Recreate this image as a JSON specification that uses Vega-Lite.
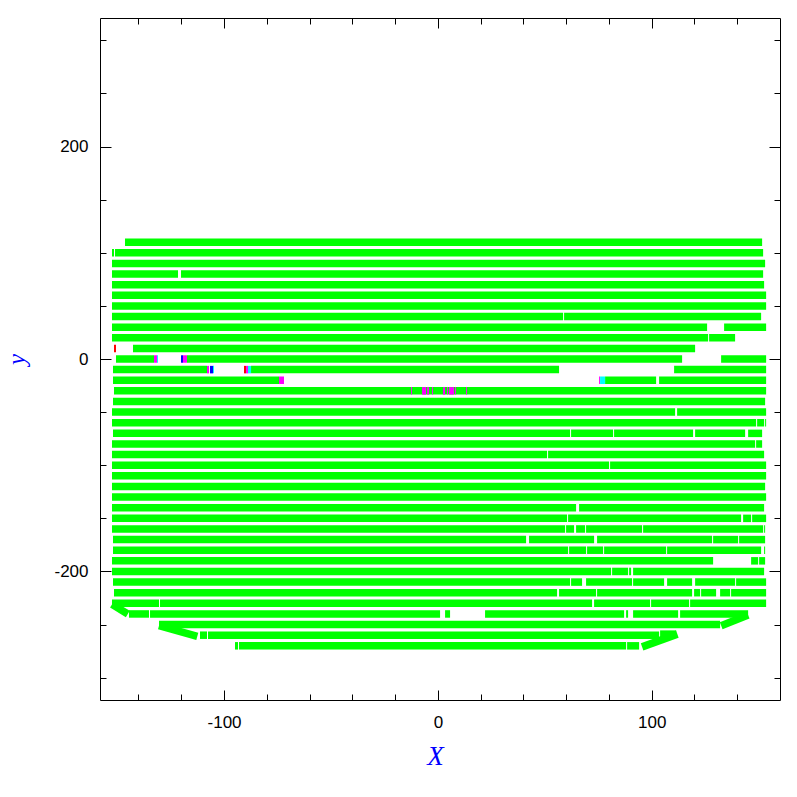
{
  "$schema": "https://vega.github.io/schema/vega-lite/v6.json",
  "width": 680,
  "height": 682,
  "autosize": "none",
  "padding": {"left": 100, "top": 18, "right": 17, "bottom": 97},
  "background": "white",
  "config": {"view": {"stroke": "black", "strokeWidth": 1}},
  "data": {"values": [
    {"x": -146.31, "x2": 151.64, "y": 110, "y2": 110, "c": "g"},
    {"x": -152.39, "x2": -151.45, "y": 100, "y2": 100, "c": "g"},
    {"x": -150.98, "x2": 152.11, "y": 100, "y2": 100, "c": "g"},
    {"x": -152.39, "x2": 153.04, "y": 90, "y2": 90, "c": "g"},
    {"x": -152.39, "x2": -121.52, "y": 80, "y2": 80, "c": "g"},
    {"x": -120.11, "x2": 152.11, "y": 80, "y2": 80, "c": "g"},
    {"x": -152.39, "x2": 152.57, "y": 70, "y2": 70, "c": "g"},
    {"x": -152.39, "x2": 153.51, "y": 60, "y2": 60, "c": "g"},
    {"x": -152.39, "x2": 153.51, "y": 50, "y2": 50, "c": "g"},
    {"x": -152.39, "x2": 58.56, "y": 40, "y2": 40, "c": "g"},
    {"x": 59.03, "x2": 151.17, "y": 40, "y2": 40, "c": "g"},
    {"x": -152.39, "x2": 125.91, "y": 30, "y2": 30, "c": "g"},
    {"x": 133.86, "x2": 153.51, "y": 30, "y2": 30, "c": "g"},
    {"x": -152.39, "x2": 126.38, "y": 20, "y2": 20, "c": "g"},
    {"x": 126.85, "x2": 139.0, "y": 20, "y2": 20, "c": "g"},
    {"x": -142.57, "x2": 120.3, "y": 10, "y2": 10, "c": "g"},
    {"x": -150.52, "x2": -132.74, "y": 0, "y2": 0, "c": "g"},
    {"x": -117.31, "x2": 114.22, "y": 0, "y2": 0, "c": "g"},
    {"x": 132.46, "x2": 153.51, "y": 0, "y2": 0, "c": "g"},
    {"x": -151.92, "x2": -107.95, "y": -10, "y2": -10, "c": "g"},
    {"x": -87.37, "x2": 56.68, "y": -10, "y2": -10, "c": "g"},
    {"x": 110.48, "x2": 153.51, "y": -10, "y2": -10, "c": "g"},
    {"x": -151.92, "x2": -74.28, "y": -20, "y2": -20, "c": "g"},
    {"x": 78.2, "x2": 102.06, "y": -20, "y2": -20, "c": "g"},
    {"x": 103.46, "x2": 153.51, "y": -20, "y2": -20, "c": "g"},
    {"x": -151.45, "x2": 153.51, "y": -30, "y2": -30, "c": "g"},
    {"x": -151.92, "x2": 153.04, "y": -40, "y2": -40, "c": "g"},
    {"x": -152.39, "x2": 110.94, "y": -50, "y2": -50, "c": "g"},
    {"x": 111.88, "x2": 153.51, "y": -50, "y2": -50, "c": "g"},
    {"x": -152.39, "x2": 148.83, "y": -60, "y2": -60, "c": "g"},
    {"x": 149.3, "x2": 152.57, "y": -60, "y2": -60, "c": "g"},
    {"x": 153.04, "x2": 153.51, "y": -60, "y2": -60, "c": "g"},
    {"x": -151.92, "x2": 61.83, "y": -70, "y2": -70, "c": "g"},
    {"x": 62.3, "x2": 81.95, "y": -70, "y2": -70, "c": "g"},
    {"x": 82.41, "x2": 119.36, "y": -70, "y2": -70, "c": "g"},
    {"x": 120.3, "x2": 143.69, "y": -70, "y2": -70, "c": "g"},
    {"x": 145.09, "x2": 151.64, "y": -70, "y2": -70, "c": "g"},
    {"x": -152.39, "x2": 148.36, "y": -80, "y2": -80, "c": "g"},
    {"x": 148.83, "x2": 151.64, "y": -80, "y2": -80, "c": "g"},
    {"x": -152.39, "x2": 51.07, "y": -90, "y2": -90, "c": "g"},
    {"x": 51.54, "x2": 152.57, "y": -90, "y2": -90, "c": "g"},
    {"x": -152.39, "x2": 80.07, "y": -100, "y2": -100, "c": "g"},
    {"x": 80.54, "x2": 153.51, "y": -100, "y2": -100, "c": "g"},
    {"x": -152.39, "x2": 153.51, "y": -110, "y2": -110, "c": "g"},
    {"x": -152.39, "x2": 153.04, "y": -120, "y2": -120, "c": "g"},
    {"x": -152.39, "x2": 153.51, "y": -130, "y2": -130, "c": "g"},
    {"x": -152.39, "x2": 64.64, "y": -140, "y2": -140, "c": "g"},
    {"x": 66.04, "x2": 152.57, "y": -140, "y2": -140, "c": "g"},
    {"x": -152.39, "x2": 60.43, "y": -150, "y2": -150, "c": "g"},
    {"x": 60.9, "x2": 141.81, "y": -150, "y2": -150, "c": "g"},
    {"x": 142.75, "x2": 146.49, "y": -150, "y2": -150, "c": "g"},
    {"x": 146.96, "x2": 153.51, "y": -150, "y2": -150, "c": "g"},
    {"x": -152.39, "x2": 59.5, "y": -160, "y2": -160, "c": "g"},
    {"x": 59.96, "x2": 63.7, "y": -160, "y2": -160, "c": "g"},
    {"x": 64.64, "x2": 68.85, "y": -160, "y2": -160, "c": "g"},
    {"x": 69.31, "x2": 95.51, "y": -160, "y2": -160, "c": "g"},
    {"x": 95.98, "x2": 152.11, "y": -160, "y2": -160, "c": "g"},
    {"x": 152.57, "x2": 153.04, "y": -160, "y2": -160, "c": "g"},
    {"x": -151.92, "x2": 41.25, "y": -170, "y2": -170, "c": "g"},
    {"x": 42.65, "x2": 73.06, "y": -170, "y2": -170, "c": "g"},
    {"x": 74.46, "x2": 128.25, "y": -170, "y2": -170, "c": "g"},
    {"x": 128.72, "x2": 140.41, "y": -170, "y2": -170, "c": "g"},
    {"x": 140.88, "x2": 153.04, "y": -170, "y2": -170, "c": "g"},
    {"x": -151.92, "x2": 60.9, "y": -180, "y2": -180, "c": "g"},
    {"x": 61.37, "x2": 69.31, "y": -180, "y2": -180, "c": "g"},
    {"x": 69.78, "x2": 77.27, "y": -180, "y2": -180, "c": "g"},
    {"x": 77.74, "x2": 106.74, "y": -180, "y2": -180, "c": "g"},
    {"x": 107.2, "x2": 151.17, "y": -180, "y2": -180, "c": "g"},
    {"x": 152.57, "x2": 153.04, "y": -180, "y2": -180, "c": "g"},
    {"x": -152.39, "x2": 128.72, "y": -190, "y2": -190, "c": "g"},
    {"x": 146.49, "x2": 149.77, "y": -190, "y2": -190, "c": "g"},
    {"x": 150.23, "x2": 153.04, "y": -190, "y2": -190, "c": "g"},
    {"x": -152.39, "x2": 81.01, "y": -200, "y2": -200, "c": "g"},
    {"x": 81.48, "x2": 88.96, "y": -200, "y2": -200, "c": "g"},
    {"x": 89.43, "x2": 90.37, "y": -200, "y2": -200, "c": "g"},
    {"x": 91.3, "x2": 152.57, "y": -200, "y2": -200, "c": "g"},
    {"x": -151.92, "x2": 61.83, "y": -210, "y2": -210, "c": "g"},
    {"x": 62.3, "x2": 67.44, "y": -210, "y2": -210, "c": "g"},
    {"x": 69.31, "x2": 90.83, "y": -210, "y2": -210, "c": "g"},
    {"x": 91.3, "x2": 105.8, "y": -210, "y2": -210, "c": "g"},
    {"x": 107.2, "x2": 118.9, "y": -210, "y2": -210, "c": "g"},
    {"x": 120.3, "x2": 139.0, "y": -210, "y2": -210, "c": "g"},
    {"x": 139.47, "x2": 153.51, "y": -210, "y2": -210, "c": "g"},
    {"x": -151.45, "x2": 55.75, "y": -220, "y2": -220, "c": "g"},
    {"x": 56.68, "x2": 73.99, "y": -220, "y2": -220, "c": "g"},
    {"x": 74.46, "x2": 118.9, "y": -220, "y2": -220, "c": "g"},
    {"x": 119.83, "x2": 122.64, "y": -220, "y2": -220, "c": "g"},
    {"x": 123.11, "x2": 130.12, "y": -220, "y2": -220, "c": "g"},
    {"x": 131.99, "x2": 136.67, "y": -220, "y2": -220, "c": "g"},
    {"x": 137.13, "x2": 153.51, "y": -220, "y2": -220, "c": "g"},
    {"x": -152.39, "x2": -130.4, "y": -230, "y2": -230, "c": "g"},
    {"x": -129.94, "x2": 72.12, "y": -230, "y2": -230, "c": "g"},
    {"x": 73.06, "x2": 99.25, "y": -230, "y2": -230, "c": "g"},
    {"x": 99.72, "x2": 117.49, "y": -230, "y2": -230, "c": "g"},
    {"x": 117.96, "x2": 153.51, "y": -230, "y2": -230, "c": "g"},
    {"x": -144.44, "x2": -135.08, "y": -240, "y2": -240, "c": "g"},
    {"x": -134.61, "x2": 1.03, "y": -240, "y2": -240, "c": "g"},
    {"x": 3.37, "x2": 5.71, "y": -240, "y2": -240, "c": "g"},
    {"x": 22.07, "x2": 87.09, "y": -240, "y2": -240, "c": "g"},
    {"x": 88.03, "x2": 88.96, "y": -240, "y2": -240, "c": "g"},
    {"x": 91.3, "x2": 112.35, "y": -240, "y2": -240, "c": "g"},
    {"x": 113.28, "x2": 145.09, "y": -240, "y2": -240, "c": "g"},
    {"x": -130.4, "x2": 131.99, "y": -250, "y2": -250, "c": "g"},
    {"x": -111.23, "x2": -107.95, "y": -260, "y2": -260, "c": "g"},
    {"x": -107.49, "x2": 103.46, "y": -260, "y2": -260, "c": "g"},
    {"x": 103.93, "x2": 111.41, "y": -259, "y2": -259, "c": "g"},
    {"x": -94.86, "x2": -93.45, "y": -270, "y2": -270, "c": "g"},
    {"x": -92.99, "x2": 88.03, "y": -270, "y2": -270, "c": "g"},
    {"x": 88.5, "x2": 94.11, "y": -270, "y2": -270, "c": "g"},
    {"x": -152.39, "x2": -145.0, "y": -231, "y2": -240, "c": "g"},
    {"x": 145.09, "x2": 132.5, "y": -241, "y2": -251, "c": "g"},
    {"x": -130.4, "x2": -112.5, "y": -251, "y2": -261, "c": "g"},
    {"x": 112.0, "x2": 95.5, "y": -259, "y2": -271, "c": "g"},
    {"x": -151.45, "x2": -150.52, "y": 10, "y2": 10, "c": "r"},
    {"x": -132.74, "x2": -131.34, "y": 0, "y2": 0, "c": "m"},
    {"x": -131.34, "x2": -130.87, "y": 0, "y2": 0, "c": "cy"},
    {"x": -120.11, "x2": -119.18, "y": 0, "y2": 0, "c": "b"},
    {"x": -119.18, "x2": -117.31, "y": 0, "y2": 0, "c": "m"},
    {"x": -107.95, "x2": -107.02, "y": -10, "y2": -10, "c": "m"},
    {"x": -106.55, "x2": -105.15, "y": -10, "y2": -10, "c": "b"},
    {"x": -105.15, "x2": -104.68, "y": -10, "y2": -10, "c": "cy"},
    {"x": -90.65, "x2": -89.71, "y": -10, "y2": -10, "c": "r"},
    {"x": -89.71, "x2": -88.78, "y": -10, "y2": -10, "c": "m"},
    {"x": -88.78, "x2": -87.37, "y": -10, "y2": -10, "c": "cy"},
    {"x": -74.28, "x2": -71.94, "y": -20, "y2": -20, "c": "m"},
    {"x": 75.4, "x2": 75.86, "y": -20, "y2": -20, "c": "m"},
    {"x": 75.86, "x2": 78.2, "y": -20, "y2": -20, "c": "cy"},
    {"x": -12.54, "x2": -12.07, "y": -30, "y2": -30, "c": "m"},
    {"x": -7.39, "x2": -5.52, "y": -30, "y2": -30, "c": "m"},
    {"x": -5.05, "x2": -4.12, "y": -30, "y2": -30, "c": "m"},
    {"x": -2.71, "x2": -2.25, "y": -30, "y2": -30, "c": "m"},
    {"x": 2.43, "x2": 3.37, "y": -30, "y2": -30, "c": "m"},
    {"x": 4.3, "x2": 4.77, "y": -30, "y2": -30, "c": "m"},
    {"x": 5.24, "x2": 7.58, "y": -30, "y2": -30, "c": "m"},
    {"x": 8.04, "x2": 8.51, "y": -30, "y2": -30, "c": "m"},
    {"x": 13.19, "x2": 13.66, "y": -30, "y2": -30, "c": "m"}
  ]},
  "layer": [
    {
      "mark": {"type": "rule", "strokeWidth": 7.5, "strokeCap": "butt"},
      "encoding": {
        "x": {"field": "x", "type": "quantitative",
          "scale": {"domain": [-158, 160], "nice": false, "zero": false},
          "axis": {
            "values": [-140, -120, -100, -80, -60, -40, -20, 0, 20, 40, 60, 80, 100, 120, 140],
            "tickSize": {"condition": {"test": "datum.value % 100 === 0", "value": -10}, "value": -6},
            "tickColor": "black", "tickWidth": 1,
            "labelExpr": "datum.value % 100 === 0 ? '' + datum.value : ''",
            "labelFont": "Liberation Sans", "labelFontSize": 17, "labelColor": "black",
            "labelPadding": 24, "labelOverlap": false, "labelFlush": false,
            "domain": false, "grid": false,
            "title": "X", "titleFont": "Liberation Serif", "titleFontStyle": "italic",
            "titleFontWeight": "normal", "titleFontSize": 27, "titleColor": "blue",
            "titleX": 335, "titleY": 64, "titleBaseline": "alphabetic", "titleAlign": "center"
          }},
        "x2": {"field": "x2"},
        "y": {"field": "y", "type": "quantitative",
          "scale": {"domain": [-321, 321], "nice": false, "zero": false},
          "axis": {
            "values": [-300, -250, -200, -150, -100, -50, 0, 50, 100, 150, 200, 250, 300],
            "tickSize": {"condition": {"test": "datum.value % 200 === 0", "value": -11}, "value": -6},
            "tickColor": "black", "tickWidth": 1,
            "labelExpr": "datum.value % 200 === 0 ? '' + datum.value : ''",
            "labelFont": "Liberation Sans", "labelFontSize": 17, "labelColor": "black",
            "labelPadding": 23, "labelOverlap": false, "labelFlush": false,
            "domain": false, "grid": false,
            "title": "y", "titleFont": "Liberation Serif", "titleFontStyle": "italic",
            "titleFontWeight": "normal", "titleFontSize": 25, "titleColor": "blue",
            "titleAngle": 270, "titleX": -76, "titleY": 341, "titleBaseline": "alphabetic", "titleAlign": "center"
          }},
        "y2": {"field": "y2"},
        "color": {"field": "c", "type": "nominal", "legend": null,
          "scale": {"domain": ["g", "r", "m", "b", "cy"], "range": ["#00ff00", "#ff0000", "#ff00ff", "#0000ff", "#00ffff"]}}
      }
    },
    {
      "mark": {"type": "point", "opacity": 0},
      "encoding": {
        "x": {"field": "x", "type": "quantitative",
          "axis": {
            "orient": "top",
            "values": [-140, -120, -100, -80, -60, -40, -20, 0, 20, 40, 60, 80, 100, 120, 140],
            "tickSize": {"condition": {"test": "datum.value % 100 === 0", "value": -10}, "value": -6},
            "tickColor": "black", "labels": false, "domain": false, "grid": false, "title": null
          }},
        "y": {"field": "y", "type": "quantitative",
          "axis": {
            "orient": "right",
            "values": [-300, -250, -200, -150, -100, -50, 0, 50, 100, 150, 200, 250, 300],
            "tickSize": {"condition": {"test": "datum.value % 200 === 0", "value": -11}, "value": -6},
            "tickColor": "black", "labels": false, "domain": false, "grid": false, "title": null
          }}
      }
    }
  ],
  "resolve": {"axis": {"x": "independent", "y": "independent"}}
}
